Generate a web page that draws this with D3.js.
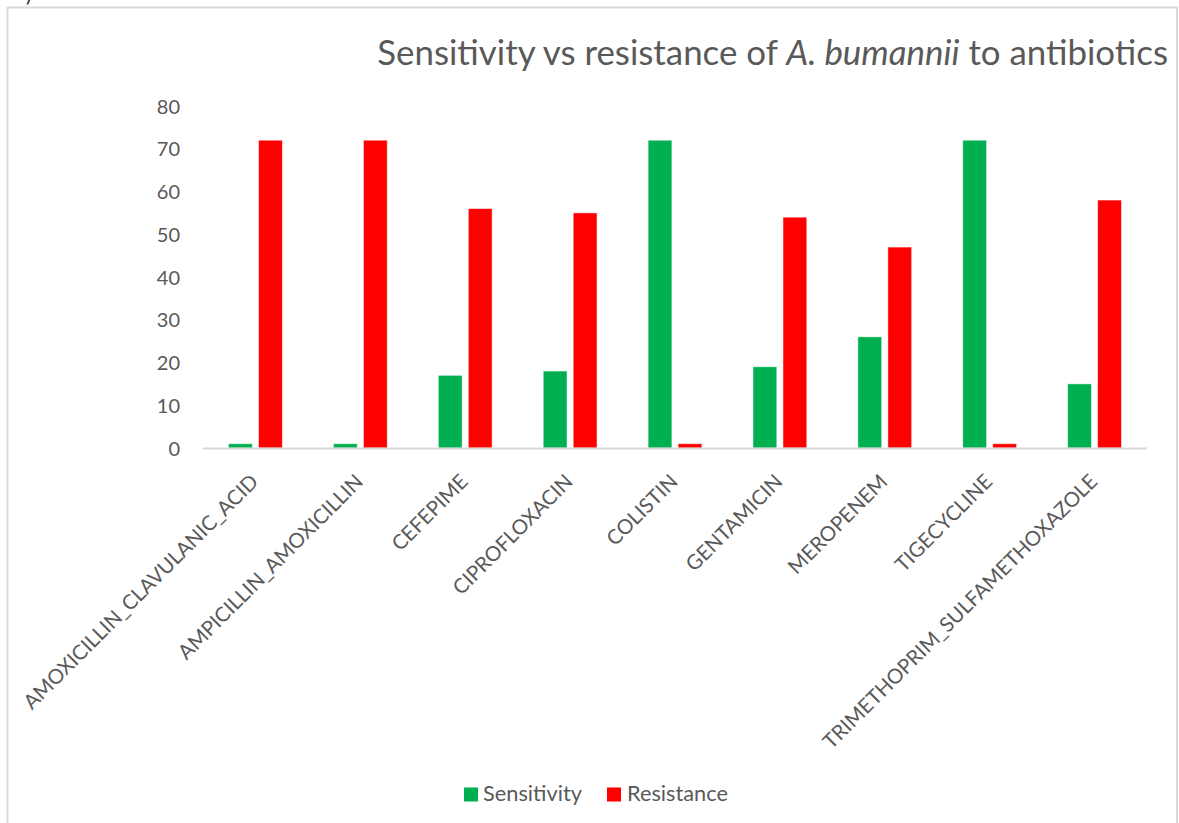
<!DOCTYPE html>
<html>
<head>
<meta charset="utf-8">
<script src="https://cdn.jsdelivr.net/npm/d3@7"></script>
<style>
  html, body { margin: 0; padding: 0; background: #ffffff; }
  svg { display: block; }
  text { font-family: Lato, "Open Sans", "Liberation Sans", sans-serif; fill: #595959; }
</style>
</head>
<body>
<svg id="chart" width="1179" height="823"></svg>
<script>
// Antibiotic susceptibility of A. bumannii isolates
const categories = [
  "AMOXICILLIN_CLAVULANIC_ACID",
  "AMPICILLIN_AMOXICILLIN",
  "CEFEPIME",
  "CIPROFLOXACIN",
  "COLISTIN",
  "GENTAMICIN",
  "MEROPENEM",
  "TIGECYCLINE",
  "TRIMETHOPRIM_SULFAMETHOXAZOLE"
];
const sensitivity = [1, 1, 17, 18, 72, 19, 26, 72, 15];
const resistance  = [72, 72, 56, 55, 1, 54, 47, 1, 58];
const seriesNames = ["Sensitivity", "Resistance"];
const seriesColors = ["#00b050", "#ff0000"];
const yTicks = [0, 10, 20, 30, 40, 50, 60, 70, 80];

const svg = d3.select("#chart");
const W = 1179, H = 823;

// fit a text node's font size so its length equals the target
function fitFont(sel, base, target) {
  const len = sel.node().getComputedTextLength();
  return base * target / len;
}

// chart frame
svg.append("rect")
  .attr("x", 7.5).attr("y", 7.5)
  .attr("width", 1169.5).attr("height", H + 20)
  .attr("fill", "#ffffff")
  .attr("stroke", "#d9d9d9").attr("stroke-width", 2);

// stray glyph at the very top edge
svg.append("text")
  .attr("x", 26).attr("y", 2)
  .attr("font-size", 20)
  .style("fill", "#262626")
  .text(")");

const plot = { left: 203, right: 1147, top: 106, bottom: 448 };

const x0 = d3.scaleBand()
  .domain(categories)
  .range([plot.left, plot.right])
  .paddingInner(0).paddingOuter(0);

const y = d3.scaleLinear()
  .domain([0, 80])
  .range([plot.bottom, plot.top]);

// bars: two per category, centred in the band with a small gap
const barW = 23.8, barGap = 6.2;
const rows = categories.map((c, i) => ({ c, vals: [sensitivity[i], resistance[i]] }));

const groups = svg.append("g").selectAll("g")
  .data(rows).join("g")
  .attr("transform", d => `translate(${x0(d.c) + x0.bandwidth() / 2},0)`);

groups.selectAll("rect")
  .data(d => d.vals.map((v, k) => ({ v, k })))
  .join("rect")
  .attr("x", d => d.k === 0 ? -barGap / 2 - barW : barGap / 2)
  .attr("y", d => y(d.v))
  .attr("width", barW)
  .attr("height", d => y(0) - y(d.v))
  .attr("fill", d => seriesColors[d.k])
  .attr("stroke", "#ffffff").attr("stroke-opacity", 0.6).attr("stroke-width", 0.8);

// category axis line
svg.append("line")
  .attr("x1", plot.left).attr("x2", plot.right)
  .attr("y1", plot.bottom + 0.5).attr("y2", plot.bottom + 0.5)
  .attr("stroke", "#d9d9d9").attr("stroke-width", 2);

// value axis labels
const yAxis = d3.axisLeft(y).tickValues(yTicks).tickSize(0).tickPadding(0);
const yg = svg.append("g")
  .attr("transform", `translate(180,0)`)
  .call(yAxis);
yg.select(".domain").remove();
yg.attr("font-family", null).attr("font-size", null);
yg.selectAll("text")
  .attr("font-size", 20)
  .attr("dy", "0.35em");

// category labels, rotated 45 degrees
const xAxis = d3.axisBottom(x0).tickSize(0).tickPadding(0);
const xg = svg.append("g")
  .attr("transform", `translate(0,${plot.bottom})`)
  .call(xAxis);
xg.select(".domain").remove();
xg.attr("font-family", null).attr("font-size", null);
const catText = xg.selectAll(".tick text")
  .attr("font-size", 20)
  .attr("text-anchor", "end")
  .attr("x", 0).attr("y", 0).attr("dy", null)
  .attr("transform", "translate(4,35) rotate(-45)");
const catSize = fitFont(catText.filter((d, i) => i === 0), 20, 322);
catText.attr("font-size", catSize);

// title with italic species name
const title = svg.append("text")
  .attr("text-anchor", "end")
  .attr("x", 1168).attr("y", 65)
  .attr("font-size", 32);
title.append("tspan").text("Sensitivity vs resistance of ");
title.append("tspan").attr("font-style", "italic").text("A. bumannii");
title.append("tspan").text(" to antibiotics");
title.attr("font-size", fitFont(title, 32, 791));

// legend
const legend = svg.append("g");
const legendItems = [
  { name: seriesNames[0], color: seriesColors[0], sx: 464, tx: 483 },
  { name: seriesNames[1], color: seriesColors[1], sx: 607, tx: 627 }
];
const probe = svg.append("text").attr("font-size", 20).text(seriesNames[0]);
const legendSize = fitFont(probe, 20, 99);
probe.remove();
legendItems.forEach(it => {
  legend.append("rect")
    .attr("x", it.sx).attr("y", 787.5)
    .attr("width", 14).attr("height", 14)
    .attr("fill", it.color);
  legend.append("text")
    .attr("x", it.tx).attr("y", 801)
    .attr("font-size", legendSize)
    .text(it.name);
});
</script>
</body>
</html>
